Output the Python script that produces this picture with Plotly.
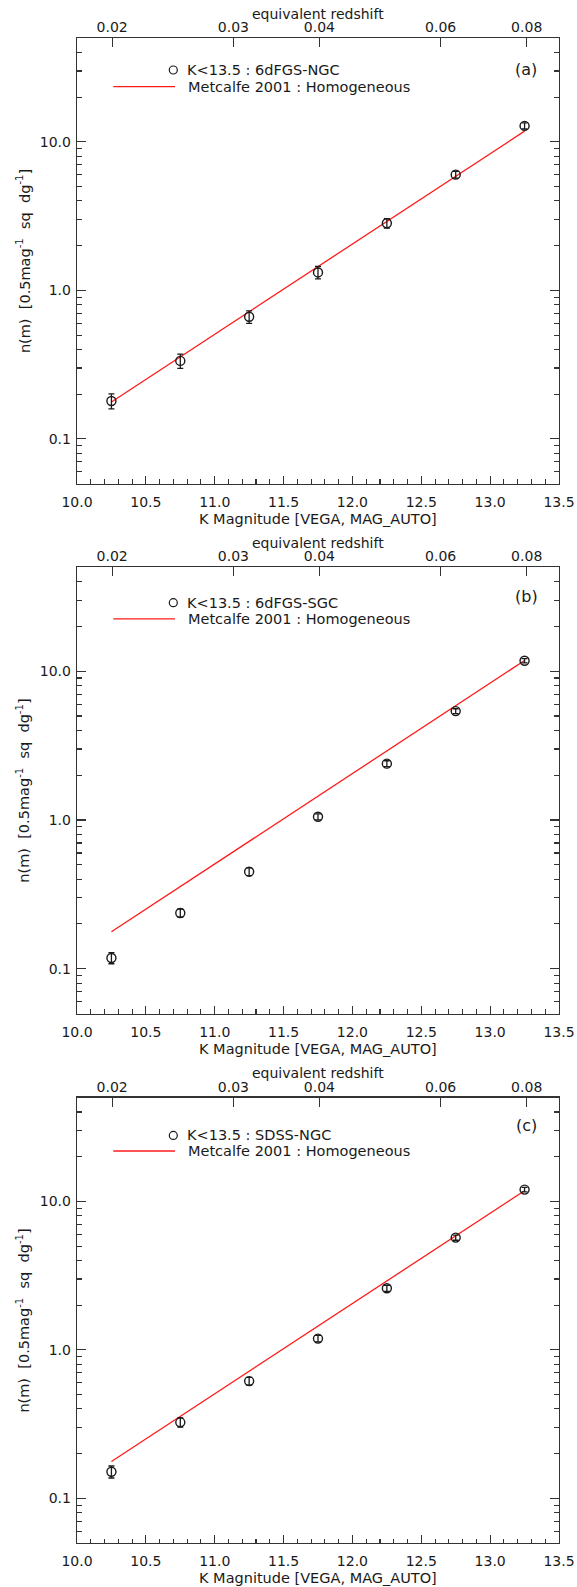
import math
import plotly.graph_objects as go

# ---------------- data ----------------
mag = [10.25, 10.75, 11.25, 11.75, 12.25, 12.75, 13.25]

n_a = [0.180, 0.335, 0.664, 1.32, 2.83, 6.01, 12.8]
e_a = [0.021, 0.037, 0.064, 0.127, 0.21, 0.32, 0.60]

n_b = [0.118, 0.237, 0.449, 1.05, 2.39, 5.39, 11.76]
e_b = [0.010, 0.015, 0.027, 0.050, 0.11, 0.20, 0.40]

n_c = [0.151, 0.325, 0.616, 1.19, 2.60, 5.70, 12.0]
e_c = [0.014, 0.023, 0.037, 0.060, 0.12, 0.23, 0.42]

model_mag = [10.25, 13.25]
model_n = [0.177, 11.8]

labels_data = ["K&lt;13.5 : 6dFGS-NGC", "K&lt;13.5 : 6dFGS-SGC", "K&lt;13.5 : SDSS-NGC"]
label_model = "Metcalfe 2001 : Homogeneous"
panel_tags = ["(a)", "(b)", "(c)"]
x_title = "K Magnitude [VEGA, MAG_AUTO]"
top_title = "equivalent redshift"
y_title = "n(m)&nbsp; [0.5mag<sup>-1</sup>&nbsp; sq&nbsp; dg<sup>-1</sup>]"

x_ticks = [10.0, 10.5, 11.0, 11.5, 12.0, 12.5, 13.0, 13.5]
z_ticks = [0.02, 0.03, 0.04, 0.06, 0.08]
z_labels = ["0.02", "0.03", "0.04", "0.06", "0.08"]
M0 = 18.75  # m = M0 + 5 log10(z)

y_ticks = [0.1, 1, 10]
y_labels = ["0.1", "1.0", "10.0"]
y_minor = [0.06, 0.07, 0.08, 0.09, 0.2, 0.3, 0.4, 0.5, 0.6, 0.7, 0.8, 0.9,
           2, 3, 4, 5, 6, 7, 8, 9, 20, 30, 40, 50]

# ---------------- layout geometry (pixels) ----------------
W, H = 577, 1587
ML, MR, MT, MB = 77, 18, 38, 44
PW, PH = W - ML - MR, H - MT - MB

def ax_(x): return (x - ML) / PW          # plot-area paper coords
def ay_(y): return (H - MB - y) / PH

panels = [  # top, bottom, legend circle y, legend line y, tag y
    (38.0, 483.6, 70.0, 86.7, 69.9),
    (567.2, 1013.5, 602.7, 618.9, 596.9),
    (1097.6, 1543.0, 1135.4, 1151.0, 1125.6),
]

FONT = "DejaVu Sans"
FS = 14
INK = "#1a1a1a"
AX = "#333333"
RED = "#ff1a1a"

fig = go.Figure()
layout = dict(
    width=W, height=H, margin=dict(l=ML, r=MR, t=MT, b=MB, autoexpand=False),
    paper_bgcolor="white", plot_bgcolor="white", showlegend=False,
    font=dict(family=FONT, size=FS, color=INK),
)
shapes, annotations = [], []

def note(x, y, text, size, xanchor="center", angle=0):
    annotations.append(dict(xref="paper", yref="paper", x=ax_(x), y=ay_(y),
                            xanchor=xanchor, yanchor="middle", showarrow=False,
                            text=text, textangle=angle,
                            font=dict(family=FONT, size=size, color=INK)))

series = [(n_a, e_a), (n_b, e_b), (n_c, e_c)]
for i, (top, bot, cy, ly, ty) in enumerate(panels):
    xb, xt, yl, yr = 4 * i + 1, 4 * i + 2, 4 * i + 3, 4 * i + 4
    def nm(k, p): return p + ("" if k == 1 else str(k))
    xbn, xtn, yln, yrn = nm(xb, "x"), nm(xt, "x"), nm(yl, "y"), nm(yr, "y")
    ydom = [max(0, ay_(bot)), min(1, ay_(top))]
    common_x = dict(range=[10, 13.5], showgrid=False, zeroline=False,
                    showline=True, linecolor=AX, linewidth=1.3,
                    ticks="inside", tickcolor=AX, tickwidth=1.1,
                    automargin=False,
                    tickfont=dict(family=FONT, size=FS, color=INK))
    layout["xaxis" + ("" if xb == 1 else str(xb))] = dict(
        common_x, domain=[0, 1], anchor=yln, side="bottom",
        tickvals=x_ticks, ticktext=["%.1f" % v for v in x_ticks], ticklen=8,
        minor=dict(dtick=0.1, tick0=10, ticks="inside", ticklen=4.5,
                   tickcolor=AX, tickwidth=1.1, showgrid=False),
        mirror=True, ticklabelstandoff=5,
    )
    layout["xaxis" + str(xt)] = dict(
        common_x, overlaying=xbn, anchor=yln, side="top",
        tickvals=[M0 + 5 * math.log10(z) for z in z_ticks], ticktext=z_labels,
        ticklen=9, ticklabelstandoff=-1,
    )
    common_y = dict(type="log", range=[math.log10(0.05), math.log10(50)],
                    showgrid=False, zeroline=False, showline=True,
                    linecolor=AX, linewidth=1.3, ticks="inside",
                    tickcolor=AX, tickwidth=1.1, tickvals=y_ticks,
                    ticktext=y_labels, ticklen=9, automargin=False,
                    minor=dict(tickvals=y_minor, ticks="inside", ticklen=5,
                               tickcolor=AX, tickwidth=1.1, showgrid=False),
                    tickfont=dict(family=FONT, size=FS, color=INK))
    layout["yaxis" + str(yl)] = dict(
        common_y, domain=ydom, anchor=xbn, side="left", mirror=True,
        ticklabelstandoff=2,
    )
    layout["yaxis" + str(yr)] = dict(
        common_y, overlaying=yln, anchor=xbn, side="right",
        showticklabels=False,
    )

    n, e = series[i]
    fig.add_trace(go.Scatter(
        x=model_mag, y=model_n, mode="lines", xaxis=xbn, yaxis=yln,
        line=dict(color=RED, width=1.3), hoverinfo="skip"))
    fig.add_trace(go.Scatter(
        x=mag, y=n, mode="markers", xaxis=xbn, yaxis=yln,
        marker=dict(symbol="circle-open", size=9, color=INK,
                    line=dict(width=1.4, color=INK)),
        error_y=dict(type="data", array=e, visible=True, color=INK,
                     thickness=1.3, width=3)))
    # empty trace so the secondary (top / right) axes get drawn
    fig.add_trace(go.Scatter(x=[], y=[], xaxis=xtn, yaxis=yrn,
                             mode="markers", hoverinfo="skip"))

    # axis titles
    xc = (ML + W - MR) / 2
    note(xc, bot + 35.5, x_title, 14.5)
    note(xc, top - 24.5, top_title, 14)
    note(23.3, (top + bot) / 2, y_title, 14.5, angle=-90)

    # legend (drawn as decoration)
    r = 4.0
    shapes.append(dict(type="circle", xref="paper", yref="paper",
                       x0=ax_(173.3 - r), x1=ax_(173.3 + r),
                       y0=ay_(cy + r), y1=ay_(cy - r),
                       line=dict(color=INK, width=1.2)))
    shapes.append(dict(type="line", xref="paper", yref="paper",
                       x0=ax_(113.3), x1=ax_(175.0), y0=ay_(ly), y1=ay_(ly),
                       line=dict(color=RED, width=1.3)))
    note(184.5, cy, labels_data[i], 14.5, xanchor="left")
    note(185.5, ly, label_model, 14.5, xanchor="left")
    note(526.2, ty, panel_tags[i], 16)

layout["shapes"] = shapes
layout["annotations"] = annotations
fig.update_layout(**layout)
fig.write_html("out.html",
               config={"displayModeBar": False, "staticPlot": True},
               post_script="document.body.style.margin='0px';"
                           "document.body.style.padding='0px';")
